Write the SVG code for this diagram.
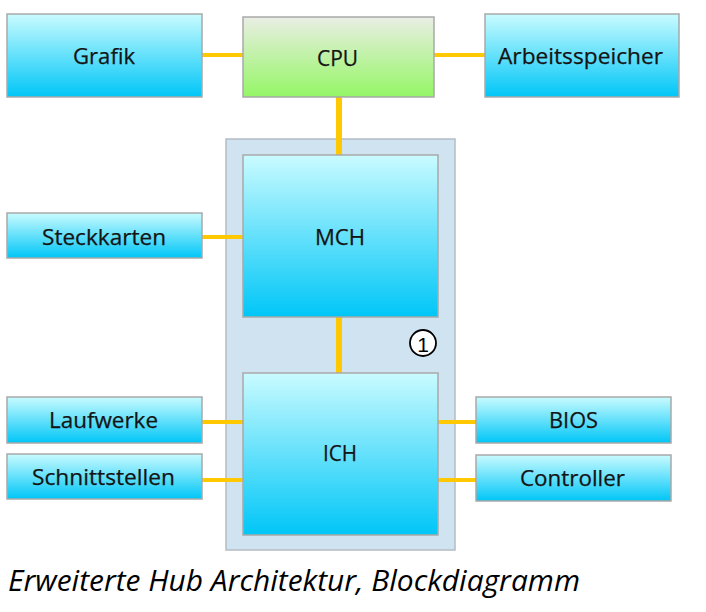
<svg xmlns="http://www.w3.org/2000/svg" width="706" height="612" viewBox="0 0 706 612">
<defs>
<linearGradient id="gCyan" x1="0" y1="0" x2="0" y2="1">
<stop offset="0" stop-color="#c9fbff"/>
<stop offset="1" stop-color="#00c6f7"/>
</linearGradient>
<linearGradient id="gGreen" x1="0" y1="0" x2="0" y2="1">
<stop offset="0" stop-color="#eaeee4"/>
<stop offset="1" stop-color="#94f665"/>
</linearGradient>
</defs>
<style>
.box{fill:url(#gCyan);stroke:#a9a9a9;stroke-width:1.5}
.cpu{fill:url(#gGreen);stroke:#a9a9a9;stroke-width:1.5}
.lbl{font-family:"Open Sans","Noto Sans",sans-serif;font-size:21px;fill:#141414;text-anchor:middle;dominant-baseline:central;stroke:#141414;stroke-width:0.25}
.con{stroke:#ffc800;fill:none}
</style>
<rect width="706" height="612" fill="#ffffff"/>
<g id="hub">
<rect x="226" y="139" width="229" height="411" fill="#cfe3f1" stroke="#b4bcc4" stroke-width="1.5"/>
</g>
<g id="connectors">
<line class="con" x1="202" y1="55" x2="243" y2="55" stroke-width="4"/>
<line class="con" x1="434" y1="55" x2="485" y2="55" stroke-width="4"/>
<line class="con" x1="339" y1="97" x2="339" y2="155" stroke-width="6"/>
<line class="con" x1="202" y1="237" x2="243" y2="237" stroke-width="4"/>
<line class="con" x1="339" y1="317" x2="339" y2="373" stroke-width="6"/>
<line class="con" x1="202" y1="422" x2="243" y2="422" stroke-width="4"/>
<line class="con" x1="202" y1="480" x2="243" y2="480" stroke-width="4"/>
<line class="con" x1="438" y1="422" x2="476" y2="422" stroke-width="4"/>
<line class="con" x1="438" y1="480" x2="476" y2="480" stroke-width="4"/>
</g>
<g id="grafik"><rect class="box" x="7" y="14" width="195" height="83"/><text class="lbl" x="104" y="56" textLength="62" lengthAdjust="spacingAndGlyphs">Grafik</text></g>
<g id="cpu"><rect class="cpu" x="243" y="17" width="191" height="80"/><text class="lbl" x="337.5" y="58" textLength="41" lengthAdjust="spacingAndGlyphs">CPU</text></g>
<g id="arbeitsspeicher"><rect class="box" x="485" y="14" width="194" height="83"/><text class="lbl" x="580.5" y="56" textLength="165" lengthAdjust="spacingAndGlyphs">Arbeitsspeicher</text></g>
<g id="steckkarten"><rect class="box" x="7" y="213" width="195" height="45"/><text class="lbl" x="104" y="237" textLength="124" lengthAdjust="spacingAndGlyphs">Steckkarten</text></g>
<g id="mch"><rect class="box" x="243" y="155" width="195" height="162"/><text class="lbl" x="340" y="237" textLength="50" lengthAdjust="spacingAndGlyphs">MCH</text></g>
<g id="ich"><rect class="box" x="243" y="373" width="195" height="162"/><text class="lbl" x="340" y="453" textLength="34" lengthAdjust="spacingAndGlyphs">ICH</text></g>
<g id="laufwerke"><rect class="box" x="7" y="397" width="195" height="46"/><text class="lbl" x="103.5" y="420" textLength="109" lengthAdjust="spacingAndGlyphs">Laufwerke</text></g>
<g id="schnittstellen"><rect class="box" x="7" y="454" width="195" height="45"/><text class="lbl" x="103.5" y="477" textLength="143" lengthAdjust="spacingAndGlyphs">Schnittstellen</text></g>
<g id="bios"><rect class="box" x="476" y="397" width="195" height="46"/><text class="lbl" x="573.5" y="420" textLength="49" lengthAdjust="spacingAndGlyphs">BIOS</text></g>
<g id="controller"><rect class="box" x="476" y="455" width="195" height="46"/><text class="lbl" x="572.5" y="478" textLength="105" lengthAdjust="spacingAndGlyphs">Controller</text></g>
<g id="marker1">
<circle cx="423" cy="343" r="13" fill="#ffffff" stroke="#000000" stroke-width="1.8"/>
<text x="423" y="344" font-family="'Liberation Sans',Arial,sans-serif" font-size="21" text-anchor="middle" dominant-baseline="central" fill="#000">1</text>
</g>
<text x="8" y="591" font-family="'Open Sans','Noto Sans',sans-serif" font-style="italic" font-size="29" fill="#000" textLength="572" lengthAdjust="spacingAndGlyphs">Erweiterte Hub Architektur, Blockdiagramm</text>
</svg>
